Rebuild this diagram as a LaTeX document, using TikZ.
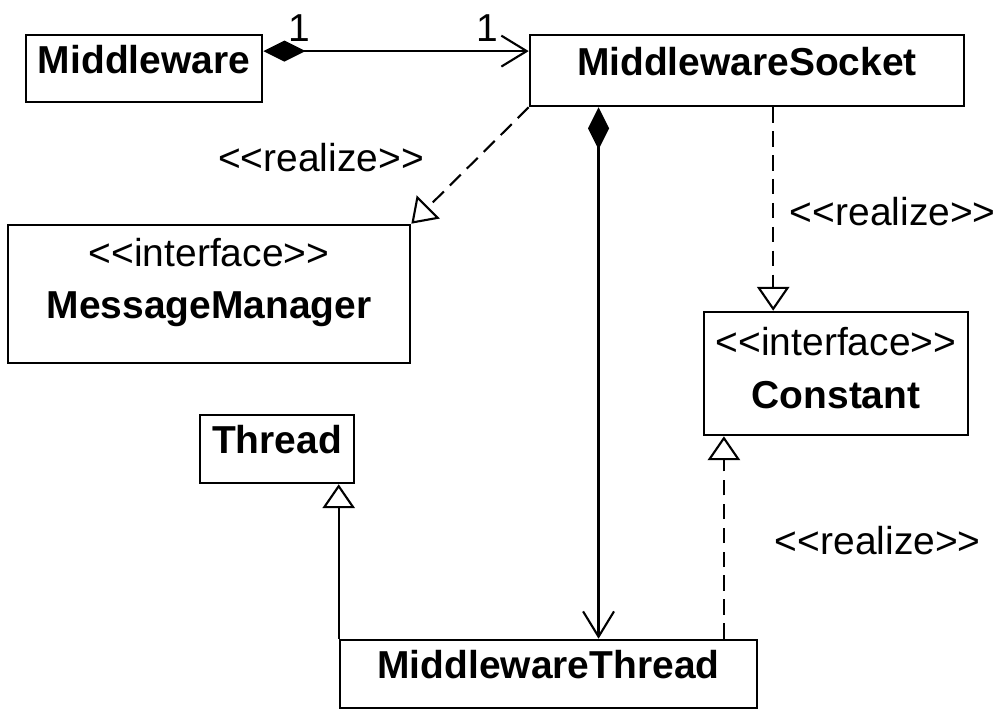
\documentclass[tikz,border=0pt]{standalone}
\usepackage{fontspec}
\setmainfont{Liberation Sans}
\usetikzlibrary{arrows.meta,calc}

\newcommand{\umlfont}{\fontsize{27.7}{37}\selectfont}
% kern trennt die << >> sonst werden Guillemets draus
\newcommand{\stereotyp}[1]{<\kern0pt<#1>\kern0pt>}

\tikzset{
	cls/.style={draw, line width=1.8pt, inner sep=0pt, font=\umlfont\bfseries, text depth=13pt},
	iface/.style={cls, align=center, font=\umlfont},
	conn/.style={line width=1.5pt},
	realize/.style={conn, dash pattern=on 11pt off 6pt, -{Triangle[open,length=17pt,width=23pt]}},
	inherit/.style={conn, -{Triangle[open,length=17pt,width=23pt]}},
	compose/.style={conn, {Diamond[length=30pt,width=15pt]}-{Straight Barb[length=18pt,width=22pt]}},
	stereo/.style={font=\umlfont}
}

\begin{document}
\begin{tikzpicture}[x=0.025cm, y=-0.025cm]
	\useasboundingbox (0,0) rectangle (998,710);

	% Klassen
	\node[cls, minimum width=5.9cm, minimum height=1.675cm] (mw) at (144,68.5) {Middleware};
	\node[cls, minimum width=10.85cm, minimum height=1.775cm] (sock) at (747,70.5) {MiddlewareSocket};
	\node[iface, minimum width=10.05cm, minimum height=3.45cm, text depth=22pt] (msgmgr) at (209,294) {\stereotyp{interface}\\\textbf{MessageManager}};
	\node[iface, minimum width=6.6cm, minimum height=3.075cm, text depth=8pt] (const) at (836,373.5) {\stereotyp{interface}\\\textbf{Constant}};
	\node[cls, minimum width=3.85cm, minimum height=1.7cm] (thread) at (277,449) {Thread};
	\node[cls, minimum width=10.425cm, minimum height=1.7cm] (mwthread) at (548.5,674) {MiddlewareThread};

	\coordinate (assoc) at ($(mw.north east)!.25!(mw.south east)$);
	\coordinate (sockL) at ($(sock.south west)!.16!(sock.south east)$);
	\coordinate (sockR) at ($(sock.south west)!.56!(sock.south east)$);
	\coordinate (thrR) at ($(mwthread.north west)!.918!(mwthread.north east)$);

	% Beziehungen
	\draw[compose] (assoc) -- (assoc -| sock.west);
	\node[stereo] (mult1) at (299,28) {1};
	\node[stereo] (mult2) at (487,28) {1};

	\draw[realize] (sock.south west) -- (msgmgr.north east);
	\node[stereo] (real1) at (321,158) {\stereotyp{realize}};

	\draw[compose] (sockL) -- (sockL |- mwthread.north);

	\draw[realize] (sockR) -- (sockR |- const.north);
	\node[stereo, anchor=west] (real2) at (785,212) {\stereotyp{realize}};

	\draw[inherit] (mwthread.north west) -- (mwthread.north west |- thread.south);

	\draw[realize] (thrR) -- (thrR |- const.south);
	\node[stereo, anchor=west] (real3) at (770,541) {\stereotyp{realize}};
\end{tikzpicture}
\end{document}
